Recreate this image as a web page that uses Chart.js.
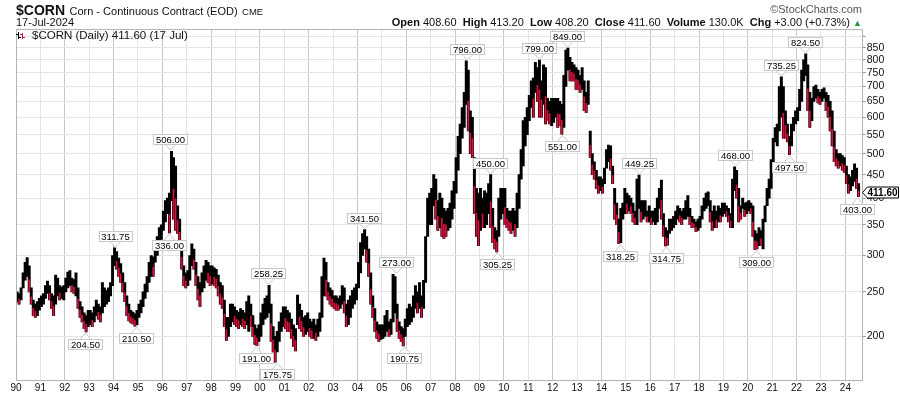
<!DOCTYPE html>
<html>
<head>
<meta charset="utf-8">
<script src="https://cdn.jsdelivr.net/npm/chart.js@4.4.1/dist/chart.umd.min.js"></script>
<style>
  html, body { margin: 0; padding: 0; background: #fff; }
  #wrap { position: relative; width: 900px; height: 396px; overflow: hidden;
          font-family: "Liberation Sans", Arial, sans-serif; color: #111; }
  #wrap canvas { position: absolute; left: 0; top: 0; }
  .txt { position: absolute; white-space: nowrap; line-height: 1; }
</style>
</head>
<body>
<div id="wrap">
  <canvas id="cornChart" width="900" height="396"></canvas>
  <div class="txt" style="left:16px; top:2px;"><b style="font-size:14px">$CORN</b> <span style="font-size:11px">Corn - Continuous Contract (EOD)</span> <span style="font-size:9.5px">CME</span></div>
  <div class="txt" style="left:16px; top:17px; font-size:11px;">17-Jul-2024</div>
  <div class="txt" style="right:38px; top:4px; font-size:11px; color:#555;">&copy;StockCharts.com</div>
  <div class="txt" style="right:38px; top:17px; font-size:11px;"><b>Open</b> 408.60 &nbsp;<b>High</b> 413.20 &nbsp;<b>Low</b> 408.20 &nbsp;<b>Close</b> 411.60 &nbsp;<b>Volume</b> 130.0K &nbsp;<b>Chg</b> +3.00 (+0.73%) <span style="color:#1a9a3a; font-size:9px;">&#9650;</span></div>
  <div class="txt" style="left:32px; top:30px; font-size:11.5px;">$CORN (Daily) 411.60 (17 Jul)</div>
</div>
<script>
// monthly low / high, Jan 1990 .. Jul 2024
const lows = [
  238,235,240,255,265,270,250,235,222,220,222,228, // 1990
  232,235,242,248,240,230,222,235,245,240,242,240, // 1991
  250,255,258,250,248,245,230,220,215,208,204.5,210, // 1992
  212,210,215,222,218,215,225,232,235,238,245,258, // 1993
  285,280,270,262,250,238,222,216,214,213,210.5,212, // 1994
  220,225,232,242,250,262,270,270,290,300,315,325, // 1995
  340,355,370,336,395,360,340,335,318,280,258,255, // 1996
  258,265,285,280,258,240,232,250,255,265,262,258, // 1997
  260,258,255,245,235,230,210,196,200,210,215,212, // 1998
  210,208,212,210,208,212,205,210,200,192,191,195, // 1999
  200,212,218,220,225,195,185,175.75,185,195,205,210, // 2000
  208,205,205,198,190,186,212,208,205,200,202,205, // 2001
  200,198,198,196,200,205,220,245,245,240,235,232, // 2002
  230,228,228,230,235,225,210,212,220,230,235,240, // 2003
  255,275,300,310,290,270,235,220,205,198,195,197, // 2004
  198,200,205,200,202,215,225,205,198,195,190.75,200, // 2005
  210,212,215,220,230,225,230,220,230,262,330,350, // 2006
  350,385,360,340,345,330,327,330,340,345,360,380, // 2007
  410,460,500,540,570,640,560,500,490,370,330,315, // 2008
  340,345,345,350,370,345,320,310,305.25,330,360,370, // 2009
  350,345,340,335,340,330,345,380,440,470,520,550, // 2010
  590,630,600,680,650,600,600,640,580,590,580,575, // 2011
  585,600,570,575,551,570,700,760,720,720,720,690, // 2012
  690,680,690,620,614,640,490,450,440,420,410,415, // 2013
  410,430,465,480,460,430,360,350,318.25,320,360,370, // 2014
  370,375,370,355,350,350,380,355,360,365,355,355, // 2015
  350,355,350,355,380,360,330,314.75,316,335,340,345, // 2016
  350,360,355,350,360,360,365,350,345,345,338,340, // 2017
  345,360,375,380,385,355,340,345,345,355,355,365, // 2018
  370,365,355,345,345,415,400,355,360,380,365,370, // 2019
  375,370,330,309,310,315,315,310,355,385,400,420, // 2020
  470,530,520,560,600,540,540,530,497.5,520,560,580, // 2021
  590,620,650,720,740,620,570,590,650,660,645,640, // 2022
  650,660,620,600,560,520,480,470,465,470,460,455, // 2023
  430,410,415,425,435,420,403                      // 2024
];
const highs = [
  250,248,255,275,290,297,285,255,240,235,238,242, // 1990
  245,248,258,264,258,248,245,272,268,258,256,258, // 1991
  268,276,278,268,266,275,255,238,232,225,222,228, // 1992
  228,225,232,240,235,232,262,255,252,255,262,300, // 1993
  311.75,306,296,288,275,262,245,235,228,226,224,228, // 1994
  235,240,250,260,270,290,300,298,318,330,345,350, // 1995
  375,395,400,410,506,490,470,385,360,318,285,275, // 1996
  278,300,318,310,290,270,262,275,285,293,290,285, // 1997
  285,282,280,272,262,258,240,220,220,235,235,232, // 1998
  228,226,230,228,225,238,245,235,222,212,208,212, // 1999
  225,235,242,245,258.25,235,210,200,205,215,225,232, // 2000
  232,228,225,218,212,208,246,235,228,220,222,225, // 2001
  218,215,218,212,218,225,270,296,290,262,255,252, // 2002
  245,245,242,245,258,255,235,240,245,252,255,260, // 2003
  290,320,335,341.5,330,310,275,245,230,215,212,212, // 2004
  212,222,228,215,218,273,270,235,215,210,208,218, // 2005
  230,235,232,245,258,250,262,245,265,330,400,410, // 2006
  420,450,440,395,410,400,380,375,380,390,415,435, // 2007
  490,545,580,630,680,796,760,620,600,490,420,410, // 2008
  420,400,415,410,430,450,380,345,340,400,420,420, // 2009
  420,380,375,375,380,375,410,450,510,590,600,630, // 2010
  670,720,730,790,770,799,720,780,770,660,650,660, // 2011
  660,660,660,650,640,740,840,849,810,790,780,770, // 2012
  760,740,770,720,680,720,560,500,480,460,445,445, // 2013
  440,465,510,522,520,470,420,390,360,380,390,420, // 2014
  410,405,400,390,375,440,449.25,395,395,395,375,385, // 2015
  375,375,380,400,420,438,370,345,340,360,360,365, // 2016
  375,385,380,375,380,395,405,380,365,360,355,360, // 2017
  365,385,400,410,413,395,375,385,375,385,380,390, // 2018
  390,385,380,370,440,468,460,420,385,400,390,392, // 2019
  395,390,385,340,335,345,340,360,385,420,440,485, // 2020
  540,570,580,700,735.25,700,620,580,545,580,600,620, // 2021
  630,690,760,800,824.5,780,680,660,700,705,690,680, // 2022
  690,695,680,670,650,620,560,510,500,500,495,490, // 2023
  470,450,445,460,475,465,430                      // 2024
];
const yearTicks = [];
for (let yr = 1990; yr <= 2024; yr++) yearTicks.push(yr);
const priceTicks = [200, 250, 300, 350, 400, 450, 500, 550, 600, 650, 700, 750, 800, 850, 900];

// swing high / low call-outs
const noteYear  = [1992.84, 1994.05, 1994.90, 1996.29, 1996.32, 1999.85, 2000.35, 2000.69, 2004.25, 2005.56, 2005.89,
                   2008.49, 2009.45, 2009.70, 2011.44, 2012.40, 2012.59, 2014.75, 2015.55, 2016.66, 2019.47, 2020.32,
                   2021.35, 2021.69, 2022.33, 2024.47];
const noteValue = [204.50, 311.75, 210.50, 336.00, 506.00, 191.00, 258.25, 175.75, 341.50, 273.00, 190.75,
                   796.00, 450.00, 305.25, 799.00, 551.00, 849.00, 318.25, 449.25, 314.75, 468.00, 309.00,
                   735.25, 497.50, 824.50, 403.00];
const noteSide  = ['L','H','L','L','H','L','H','L','H','H','L',
                   'H','H','L','H','L','H','L','H','L','H','L',
                   'H','L','H','L'];
const lastClose = 411.60;

const FONT = '"Liberation Sans", Arial, sans-serif';

const monthX = lows.map((_, i) => 1990 + (i + 0.5) / 12);
const rangeData = lows.map((lo, i) => ({ x: monthX[i], y: [lo, highs[i]] }));
const downData = [];
for (let i = 1; i < lows.length; i++) {
    const mid = (lows[i] + highs[i]) / 2, prev = (lows[i - 1] + highs[i - 1]) / 2;
    if (mid < prev) downData.push({ x: monthX[i], y: [lows[i], lows[i] + (highs[i] - lows[i]) * 0.45] });
}

const extras = {
    id: 'extras',
    afterDraw(chart) {
        const ctx = chart.ctx, a = chart.chartArea;
        const xs = chart.scales.x, ys = chart.scales.y;
        ctx.save();
        // plot frame
        ctx.strokeStyle = '#b4b4b4';
        ctx.lineWidth = 1;
        ctx.strokeRect(Math.round(a.left) + 0.5, Math.round(a.top) + 0.5,
                       Math.round(a.right - a.left) - 1, Math.round(a.bottom - a.top));

        // little legend glyph
        ctx.fillStyle = '#000';
        ctx.fillRect(18, 32, 1, 7); ctx.fillRect(16, 34, 2, 1); ctx.fillRect(19, 37, 2, 1);
        ctx.fillStyle = '#d8103c';
        ctx.fillRect(22, 33, 1, 6); ctx.fillRect(20, 34, 2, 1); ctx.fillRect(23, 37, 2, 1);

        // call-out boxes
        ctx.font = '9.5px ' + FONT;
        ctx.textAlign = 'center';
        ctx.textBaseline = 'middle';
        noteYear.forEach((yr, i) => {
            const px = Math.round(xs.getPixelForValue(yr));
            const py = ys.getPixelForValue(noteValue[i]);
            const txt = noteValue[i].toFixed(2);
            const w = Math.round(ctx.measureText(txt).width + 5), h = 10;
            const up = noteSide[i] === 'H';
            const by = Math.round(up ? py - 7 - h : py + 7);
            const bx = Math.round(px - w / 2);
            const edge = up ? by + h : by;
            ctx.beginPath();
            ctx.moveTo(px - 5, edge + 0.5);
            ctx.lineTo(px + 0.5, up ? py - 1 : py + 1);
            ctx.lineTo(px + 6, edge + 0.5);
            ctx.fillStyle = '#fff'; ctx.fill();
            ctx.strokeStyle = '#c8c8c8'; ctx.stroke();
            ctx.fillRect(bx, by, w, h);
            ctx.strokeRect(bx + 0.5, by + 0.5, w, h);
            ctx.fillStyle = '#000';
            ctx.fillText(txt, px + 0.5, by + h / 2 + 1);
        });

        // last price tag
        const cy = Math.round(ys.getPixelForValue(lastClose)) + 0.5;
        const tx = Math.round(a.right) - 0.5;
        ctx.beginPath();
        ctx.moveTo(tx, cy);
        ctx.lineTo(tx + 5, cy - 5.5);
        ctx.lineTo(898.5, cy - 5.5);
        ctx.lineTo(898.5, cy + 5.5);
        ctx.lineTo(tx + 5, cy + 5.5);
        ctx.closePath();
        ctx.fillStyle = '#fff'; ctx.fill();
        ctx.strokeStyle = '#000'; ctx.stroke();
        ctx.fillStyle = '#000';
        ctx.font = 'bold 10px ' + FONT;
        ctx.textAlign = 'left';
        ctx.fillText(lastClose.toFixed(2), tx + 5, cy + 0.5);
        ctx.restore();
    }
};

new Chart(document.getElementById('cornChart').getContext('2d'), {
    type: 'bar',
    data: {
        datasets: [{
            label: 'down',
            data: downData,
            backgroundColor: '#d8103c',
            barThickness: 1,
            grouped: false,
            order: 1
        }, {
            label: '$CORN',
            data: rangeData,
            backgroundColor: '#000',
            barThickness: 2.3,
            grouped: false,
            order: 2
        }]
    },
    options: {
        responsive: false,
        animation: false,
        devicePixelRatio: 1,
        layout: { padding: { left: 16, top: 29, right: 0, bottom: 0 } },
        plugins: { legend: { display: false }, tooltip: { enabled: false } },
        scales: {
            x: {
                type: 'linear',
                min: 1990,
                max: 2024.71,
                offset: false,
                afterBuildTicks: s => { s.ticks = yearTicks.map(v => ({ value: v })); },
                afterFit: s => { s.height = 16; },
                grid: {
                    offset: false,
                    drawTicks: false,
                    color: c => (c.tick && c.tick.value % 2 === 0) ? '#c6c6c6' : '#e4e4e4'
                },
                border: { color: '#b4b4b4' },
                ticks: {
                    padding: 2,
                    autoSkip: false,
                    maxRotation: 0,
                    color: '#111',
                    font: { size: 10, family: FONT },
                    callback: v => String(v % 100).padStart(2, '0')
                }
            },
            y: {
                type: 'logarithmic',
                position: 'right',
                min: 160.7,
                max: 934,
                afterBuildTicks: s => { s.ticks = priceTicks.map(v => ({ value: v })); },
                afterFit: s => { s.width = 37.3; },
                grid: { color: '#e4e4e4', tickLength: 3, tickColor: '#999' },
                border: { color: '#b4b4b4' },
                ticks: {
                    padding: 1,
                    autoSkip: false,
                    color: '#111',
                    font: { size: 10.5, family: FONT },
                    callback: v => v >= 900 ? '' : String(v)
                }
            }
        }
    },
    plugins: [extras]
});
</script>
</body>
</html>
